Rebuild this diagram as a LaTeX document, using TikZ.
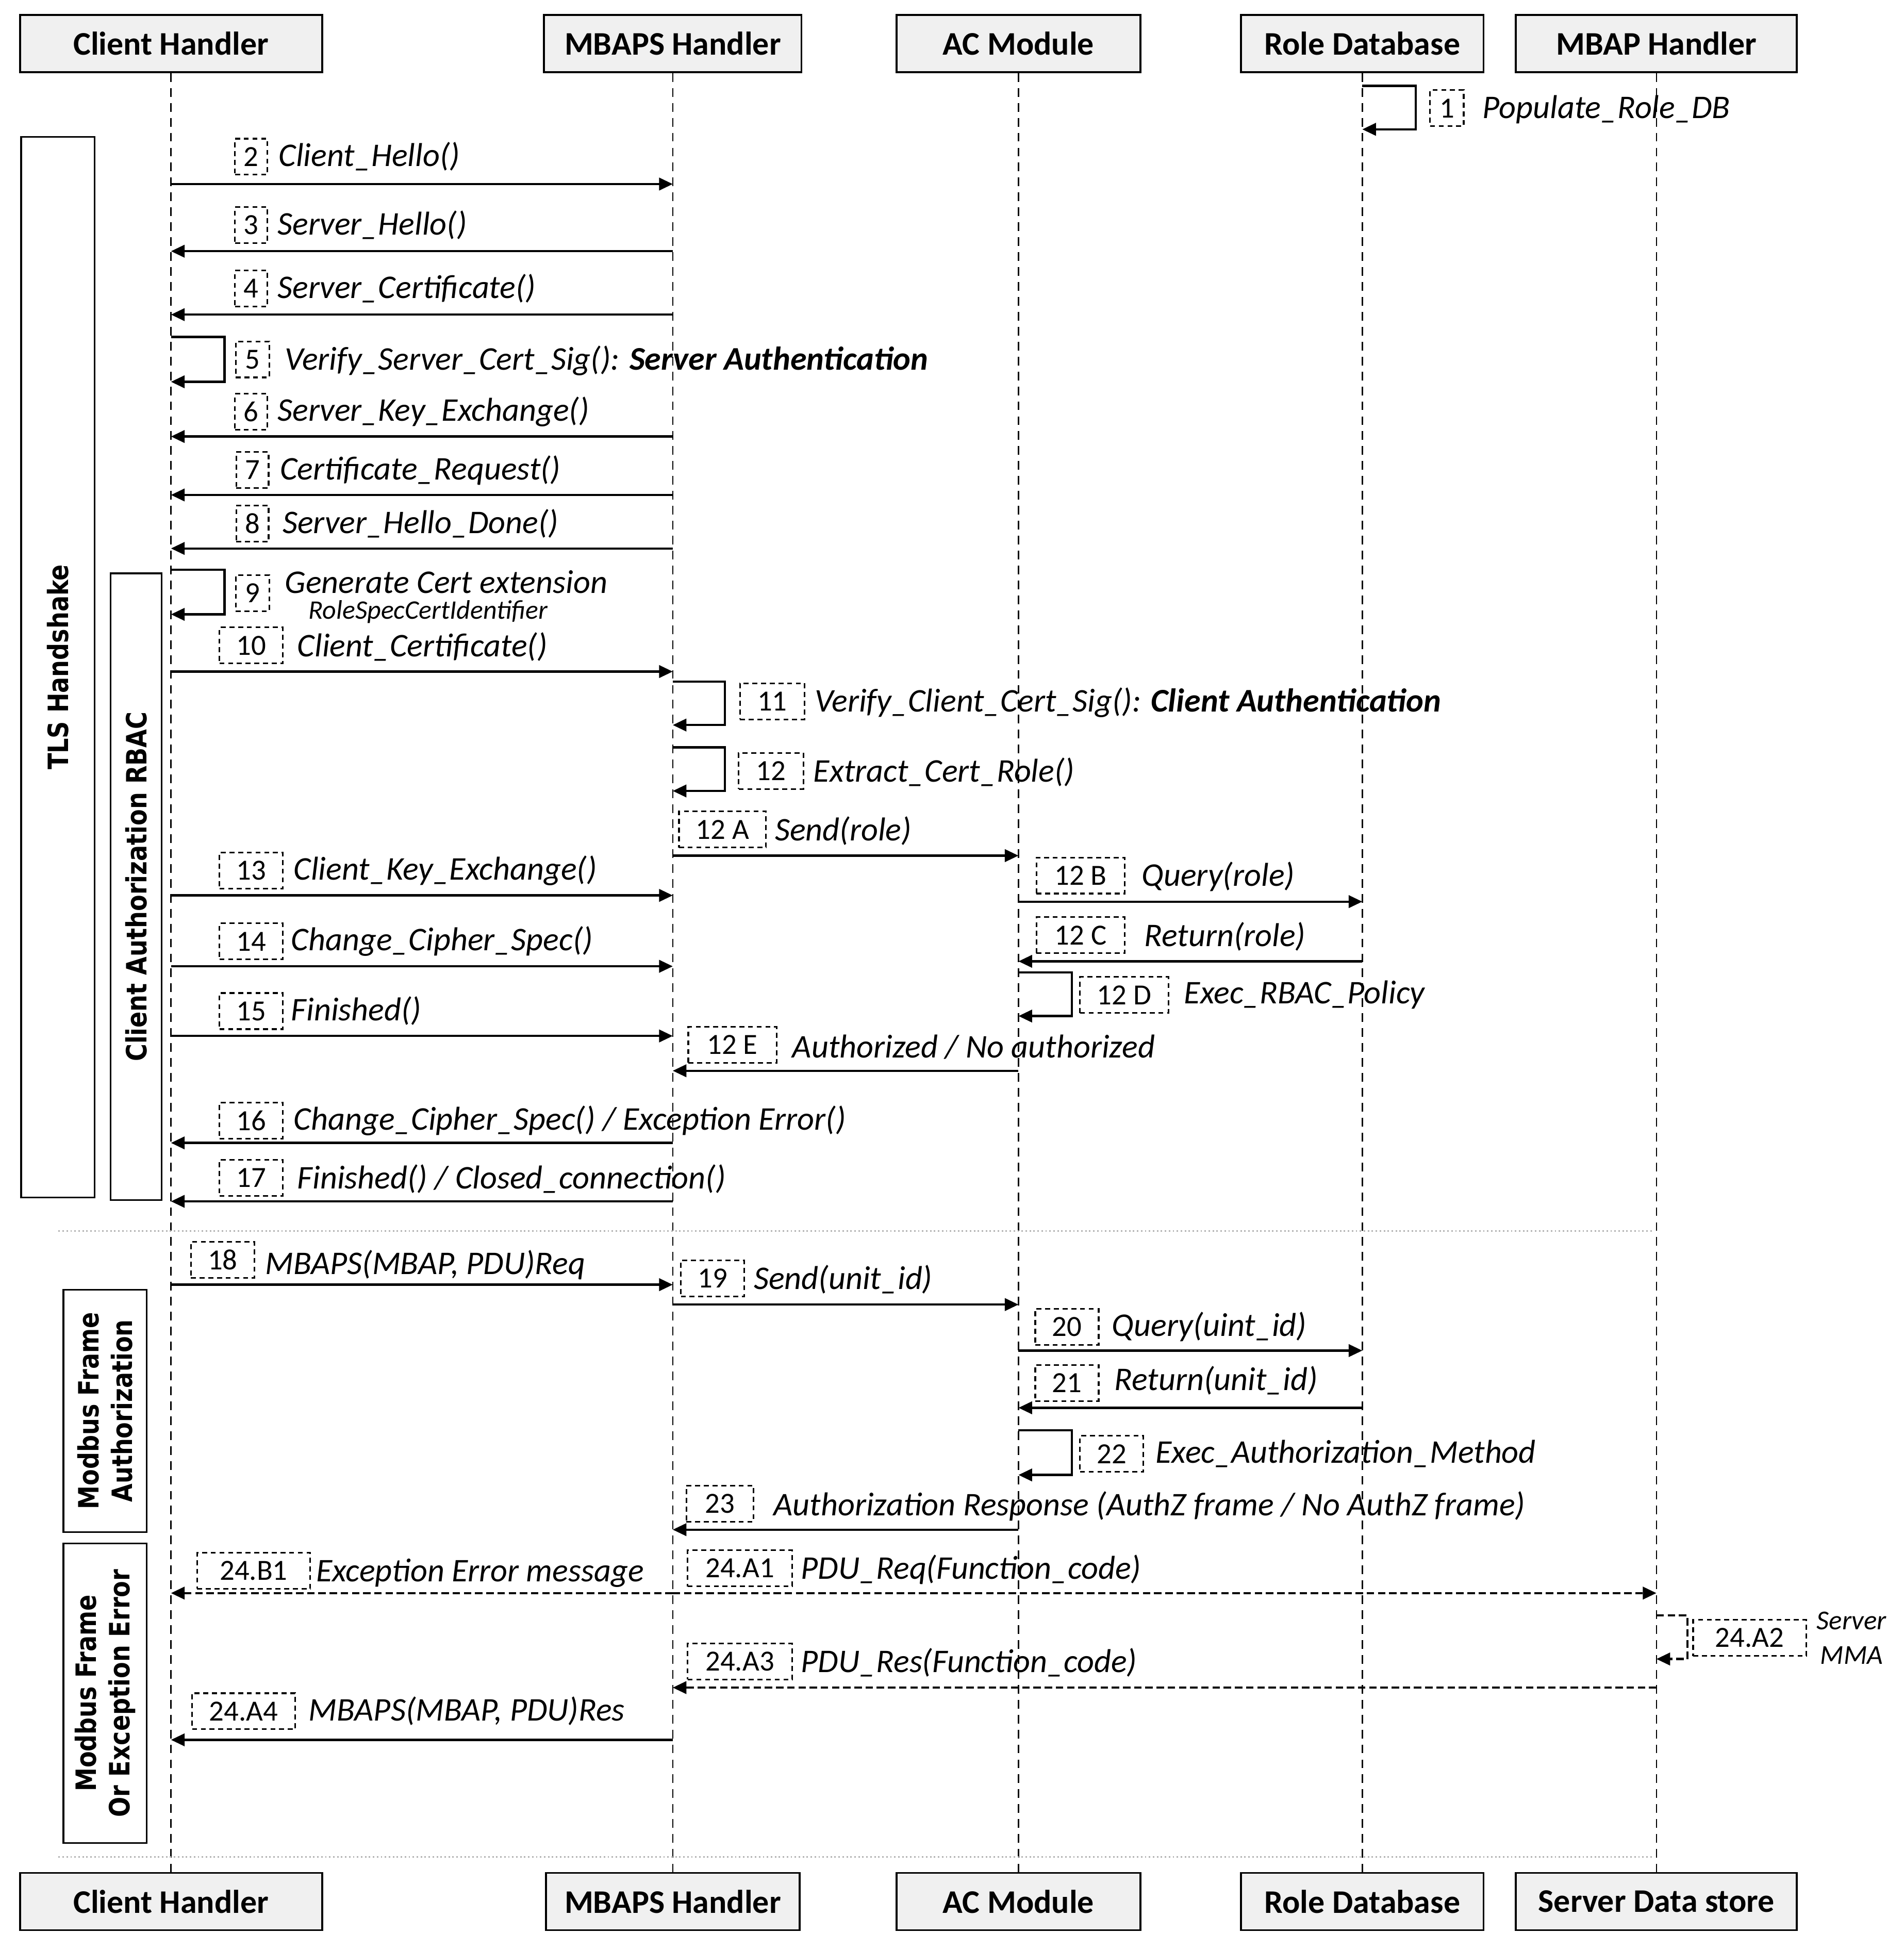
\documentclass[tikz,border=0pt]{standalone}
\usepackage{fontspec}
\setmainfont{Carlito}
\newfontfamily\grpfont[FakeStretch=0.85]{DejaVu Sans}
\usetikzlibrary{arrows.meta, positioning}

\begin{document}
\begin{tikzpicture}[x=1pt, y=-1pt,
  headbox/.style={draw, line width=1.6pt, fill=gray!12, minimum height=46pt, inner sep=0pt, font=\fontsize{26.5}{30}\selectfont\bfseries},
  numbox/.style={draw, dash pattern=on 4pt off 3pt, line width=1.3pt, minimum height=29pt, inner sep=0pt, font=\fontsize{23.5}{26}\selectfont},
  lbl/.style={anchor=west, inner sep=0pt, font=\fontsize{26.6}{30}\selectfont\itshape},
  grp/.style={draw, line width=1.4pt, inner sep=0pt, rotate=90, align=center, font=\fontsize{22.5}{27}\selectfont\grpfont\bfseries},
  life/.style={dash pattern=on 7pt off 5pt, line width=1pt},
  msg/.style={line width=1.8pt, -{Triangle[length=11pt,width=10pt]}},
  dmsg/.style={msg, dash pattern=on 6pt off 3pt},
  sep/.style={gray!60, dotted, line width=1.2pt}]

  \useasboundingbox (0,0) rectangle (1531,1568);

  % lifeline heads and feet
  \foreach \n/\x/\w/\t in {ch/137.5/243/Client Handler, mb/541/207/MBAPS Handler, ac/819/196/AC Module, rd/1095.5/195/Role Database, mh/1332/226/MBAP Handler}
    \node[headbox, minimum width=\w] (\n) at (\x,35) {\t};
  \foreach \n/\x/\w/\t in {chb/137.5/243/Client Handler, mbb/541/204/MBAPS Handler, acb/819/196/AC Module, rdb/1095.5/195/Role Database, sds/1332/226/Server Data store}
    \node[headbox, minimum width=\w] (\n) at (\x,1529) {\t};
  \foreach \a/\b in {ch/chb, mb/mbb, ac/acb, rd/rdb, mh/sds}
    \draw[life] (\a.south) -- (\b.north);

  % phases
  \node[grp, minimum width=853, minimum height=59] (tls) at (46.5,536.5) {TLS Handshake};
  \node[grp, minimum width=504, minimum height=41] (rbac) at (109.5,713) {Client Authorization RBAC};
  \node[grp, minimum width=195, minimum height=67] (mfa) at (84.5,1134.5) {Modbus Frame\\Authorization};
  \node[grp, minimum width=241, minimum height=67] (mfe) at (84.5,1361.5) {Modbus Frame\\Or Exception Error};
  \draw[sep] (47,990) -- (1330,990);
  \draw[sep] (47,1493) -- (1330,1493);

  % messages
  \foreach \a/\b/\y in {ch/mb/148, mb/ch/202, mb/ch/253, mb/ch/351, mb/ch/398, mb/ch/441, ch/mb/540, mb/ac/688, ch/mb/720, ac/rd/725, ch/mb/777, rd/ac/773, ch/mb/833, ac/mb/861, mb/ch/919, mb/ch/966, ch/mb/1033, mb/ac/1049, ac/rd/1086, rd/ac/1132, ac/mb/1230, mb/ch/1399}
    \draw[msg] (\a |- 0,\y) -- (\b |- 0,\y);
  \foreach \l/\a/\b/\w in {rd/69/104/43, ch/271/307/43, ch/458/494/43, mb/548/583/42, mb/601/636/42, ac/782/817/43, ac/1150/1186/43}
    \draw[msg] (\l |- 0,\a) -- ++(\w,0) |- (\l |- 0,\b);
  \draw[dmsg] (mb |- 0,1281) -- (ch |- 0,1281);
  \draw[dmsg] (mb |- 0,1281) -- (mh |- 0,1281);
  \draw[dmsg] (mh |- 0,1299) -- ++(25,0) |- (mh |- 0,1334);
  \draw[dmsg] (mh |- 0,1357) -- (mb |- 0,1357);

  % step numbers
  \foreach \i/\x/\y/\w/\t in {1/1163.5/87/27/1, 2/202/126/26/2, 3/202/181/26/3, 4/202/232/26/4, 5/203/289/27/5, 6/202/331/26/6, 7/203/378/26/7, 8/203/421/26/8, 9/203/477/27/9, 10/202/519/51/10, 11/621/564/52/11, 12/620/620/52/12, 12a/581/667/70/12 A, 13/202/700/51/13, 12b/869/704/71/12 B, 14/202/757/51/14, 12c/869/752/71/12 C, 12d/904/800/71/12 D, 15/202/813/51/15, 12e/589/840/71/12 E, 16/202/901/51/16, 17/202/947/51/17, 18/179/1013/51/18, 19/573/1028/51/19, 20/858/1067/51/20, 21/858/1112/51/21, 22/894/1169/51/22, 23/579/1209/54/23, 24b1/204/1263/91/24.B1, 24a1/595/1261/84/24.A1, 24a2/1407/1317/91/24.A2, 24a3/595/1336/84/24.A3, 24a4/196/1376/83/24.A4}
    \node[numbox, minimum width=\w] (b\i) at (\x,\y) {\t};

  % step texts
  \foreach \i/\x/\y/\t in {1/1192/88/Populate\_Role\_DB, 2/224/126/Client\_Hello(), 3/223/181/Server\_Hello(), 4/223/232/Server\_Certificate(), 5/229/290/{Verify\_Server\_Cert\_Sig(): \textbf{Server Authentication}}, 6/223/331/Server\_Key\_Exchange(), 7/225/378/Certificate\_Request(), 8/227/421/Server\_Hello\_Done(), 9/229/468/Generate Cert extension, 10/239/520/Client\_Certificate(), 11/655/565/{Verify\_Client\_Cert\_Sig(): \textbf{Client Authentication}}, 12/654/621/Extract\_Cert\_Role(), 12a/623/668/Send(role), 13/236/700/Client\_Key\_Exchange(), 12b/918/705/Query(role), 14/234/757/Change\_Cipher\_Spec(), 12c/920/753/Return(role), 12d/952/800/Exec\_RBAC\_Policy, 15/234/813/Finished(), 12e/637/842/{Authorized / No authorized}, 16/236/901/{Change\_Cipher\_Spec() / Exception Error()}, 17/239/948/{Finished() / Closed\_connection()}, 18/213/1017/{MBAPS(MBAP, PDU)Req}, 19/606/1029/Send(unit\_id), 20/894/1067/Query(uint\_id), 21/896/1110/Return(unit\_id), 22/929/1169/Exec\_Authorization\_Method, 23/622/1211/{Authorization Response (AuthZ frame / No AuthZ frame)}, 24b1/254/1265/Exception Error message, 24a1/644/1262/PDU\_Req(Function\_code), 24a3/644/1337/PDU\_Res(Function\_code), 24a4/248/1376/{MBAPS(MBAP, PDU)Res}}
    \node[lbl] (t\i) at (\x,\y) {\t};
  \node[lbl, font=\fontsize{21.5}{24}\selectfont\itshape] (t9b) at (248,492) {RoleSpecCertIdentifier};
  \node[inner sep=0pt, align=center, font=\fontsize{22}{28}\selectfont\itshape] (t24a2) at (1489,1317) {Server\\MMA};

\end{tikzpicture}
\end{document}
